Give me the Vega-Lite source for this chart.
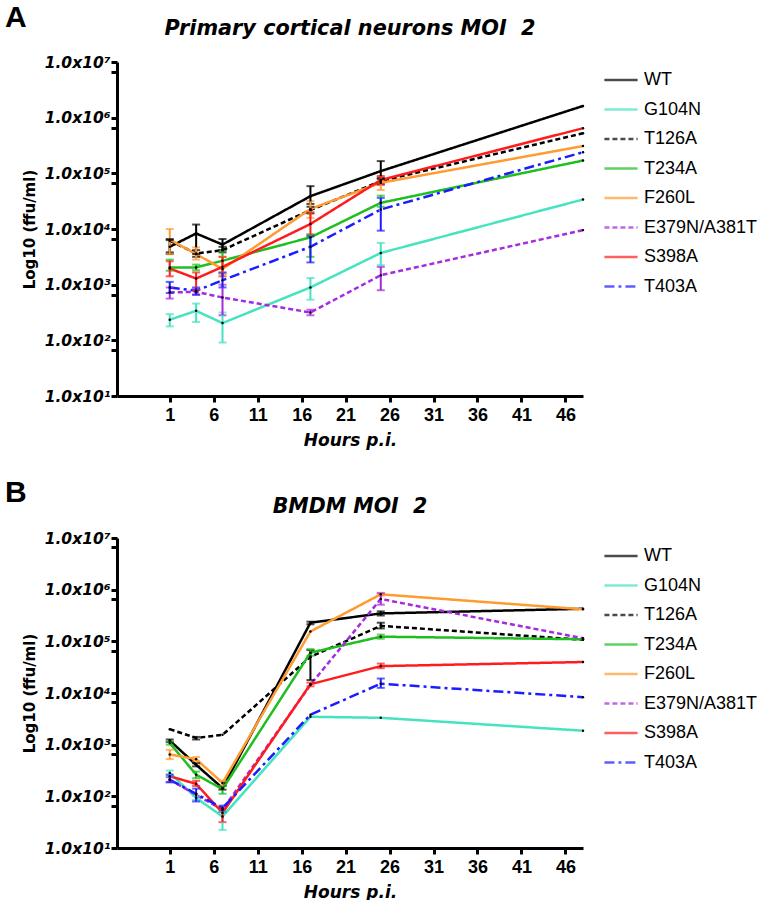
{
  "$schema": "https://vega.github.io/schema/vega-lite/v6.json",
  "background": "white",
  "padding": {"left": 5, "top": 3, "right": 0, "bottom": 0},
  "config": {
    "font": "Liberation Sans",
    "view": {"stroke": null},
    "axis": {"grid": false, "domainColor": "black", "domainWidth": 3, "tickColor": "black", "tickWidth": 3, "tickSize": 6, "labelColor": "black", "titleColor": "black", "labelOverlap": false},
    "legend": {"orient": "right", "offset": 15, "padding": 0, "symbolType": "stroke", "symbolSize": 1100, "symbolStrokeWidth": 2.5, "labelFontSize": 18, "labelColor": "black", "rowPadding": 2.5, "labelOffset": 5, "title": null}
  },
  "datasets": {
    "pts": [
      {"panel": "A", "strain": "WT", "h": 1, "v": 3.68, "lo": 3.58, "hi": 3.8},
      {"panel": "A", "strain": "WT", "h": 4, "v": 3.92, "lo": 3.55, "hi": 4.08},
      {"panel": "A", "strain": "WT", "h": 7, "v": 3.72, "lo": 3.62, "hi": 3.82},
      {"panel": "A", "strain": "WT", "h": 17, "v": 4.59, "lo": 4.45, "hi": 4.77},
      {"panel": "A", "strain": "WT", "h": 25, "v": 5.04, "lo": 4.9, "hi": 5.22},
      {"panel": "A", "strain": "WT", "h": 48, "v": 6.21},
      {"panel": "A", "strain": "G104N", "h": 1, "v": 2.37, "lo": 2.25, "hi": 2.47},
      {"panel": "A", "strain": "G104N", "h": 4, "v": 2.53, "lo": 2.33, "hi": 2.66},
      {"panel": "A", "strain": "G104N", "h": 7, "v": 2.31, "lo": 1.96, "hi": 2.5},
      {"panel": "A", "strain": "G104N", "h": 17, "v": 2.95, "lo": 2.73, "hi": 3.12},
      {"panel": "A", "strain": "G104N", "h": 25, "v": 3.57, "lo": 3.35, "hi": 3.75},
      {"panel": "A", "strain": "G104N", "h": 48, "v": 4.53},
      {"panel": "A", "strain": "T126A", "h": 1, "v": 3.79, "lo": 3.55, "hi": 3.82},
      {"panel": "A", "strain": "T126A", "h": 4, "v": 3.56, "lo": 3.5, "hi": 3.62},
      {"panel": "A", "strain": "T126A", "h": 7, "v": 3.62, "lo": 3.58, "hi": 3.68},
      {"panel": "A", "strain": "T126A", "h": 17, "v": 4.34, "lo": 4.28, "hi": 4.4},
      {"panel": "A", "strain": "T126A", "h": 25, "v": 4.86, "lo": 4.8, "hi": 4.92},
      {"panel": "A", "strain": "T126A", "h": 48, "v": 5.72},
      {"panel": "A", "strain": "T234A", "h": 1, "v": 3.31, "lo": 3.25, "hi": 3.45},
      {"panel": "A", "strain": "T234A", "h": 4, "v": 3.31, "lo": 3.26, "hi": 3.36},
      {"panel": "A", "strain": "T234A", "h": 7, "v": 3.43, "lo": 3.2, "hi": 3.6},
      {"panel": "A", "strain": "T234A", "h": 17, "v": 3.85, "lo": 3.5, "hi": 3.9},
      {"panel": "A", "strain": "T234A", "h": 25, "v": 4.47, "lo": 4.4, "hi": 4.6},
      {"panel": "A", "strain": "T234A", "h": 48, "v": 5.23},
      {"panel": "A", "strain": "F260L", "h": 1, "v": 3.81, "lo": 3.55, "hi": 4.0},
      {"panel": "A", "strain": "F260L", "h": 4, "v": 3.55, "lo": 3.45, "hi": 3.67},
      {"panel": "A", "strain": "F260L", "h": 7, "v": 3.28, "lo": 3.2, "hi": 3.5},
      {"panel": "A", "strain": "F260L", "h": 17, "v": 4.36, "lo": 4.2, "hi": 4.5},
      {"panel": "A", "strain": "F260L", "h": 25, "v": 4.83, "lo": 4.7, "hi": 4.95},
      {"panel": "A", "strain": "F260L", "h": 48, "v": 5.49},
      {"panel": "A", "strain": "E379N/A381T", "h": 1, "v": 2.86, "lo": 2.75, "hi": 2.95},
      {"panel": "A", "strain": "E379N/A381T", "h": 4, "v": 2.87, "lo": 2.82, "hi": 2.92},
      {"panel": "A", "strain": "E379N/A381T", "h": 7, "v": 2.77, "lo": 2.45, "hi": 3.0},
      {"panel": "A", "strain": "E379N/A381T", "h": 17, "v": 2.5, "lo": 2.45, "hi": 2.55},
      {"panel": "A", "strain": "E379N/A381T", "h": 25, "v": 3.17, "lo": 2.9, "hi": 3.32},
      {"panel": "A", "strain": "E379N/A381T", "h": 48, "v": 3.98},
      {"panel": "A", "strain": "S398A", "h": 1, "v": 3.29, "lo": 3.15, "hi": 3.42},
      {"panel": "A", "strain": "S398A", "h": 4, "v": 3.11, "lo": 2.9, "hi": 3.22},
      {"panel": "A", "strain": "S398A", "h": 7, "v": 3.32, "lo": 3.15, "hi": 3.5},
      {"panel": "A", "strain": "S398A", "h": 17, "v": 4.09, "lo": 3.9, "hi": 4.3},
      {"panel": "A", "strain": "S398A", "h": 25, "v": 4.88, "lo": 4.8, "hi": 4.95},
      {"panel": "A", "strain": "S398A", "h": 48, "v": 5.81},
      {"panel": "A", "strain": "T403A", "h": 1, "v": 2.95, "lo": 2.85, "hi": 3.05},
      {"panel": "A", "strain": "T403A", "h": 4, "v": 2.89, "lo": 2.82, "hi": 2.95},
      {"panel": "A", "strain": "T403A", "h": 7, "v": 3.08, "lo": 2.95, "hi": 3.22},
      {"panel": "A", "strain": "T403A", "h": 17, "v": 3.68, "lo": 3.4, "hi": 3.87},
      {"panel": "A", "strain": "T403A", "h": 25, "v": 4.35, "lo": 3.97, "hi": 4.56},
      {"panel": "A", "strain": "T403A", "h": 48, "v": 5.38},
      {"panel": "B", "strain": "WT", "h": 1, "v": 3.08, "lo": 3.05, "hi": 3.1},
      {"panel": "B", "strain": "WT", "h": 4, "v": 2.61, "lo": 2.58, "hi": 2.64},
      {"panel": "B", "strain": "WT", "h": 7, "v": 2.16, "lo": 2.13, "hi": 2.2},
      {"panel": "B", "strain": "WT", "h": 17, "v": 5.36, "lo": 5.33, "hi": 5.38},
      {"panel": "B", "strain": "WT", "h": 25, "v": 5.54, "lo": 5.5, "hi": 5.58},
      {"panel": "B", "strain": "WT", "h": 48, "v": 5.63},
      {"panel": "B", "strain": "G104N", "h": 1, "v": 2.45, "lo": 2.4, "hi": 2.5},
      {"panel": "B", "strain": "G104N", "h": 4, "v": 1.97, "lo": 1.93, "hi": 2.01},
      {"panel": "B", "strain": "G104N", "h": 7, "v": 1.61, "lo": 1.35, "hi": 1.7},
      {"panel": "B", "strain": "G104N", "h": 17, "v": 3.54},
      {"panel": "B", "strain": "G104N", "h": 25, "v": 3.52},
      {"panel": "B", "strain": "G104N", "h": 48, "v": 3.27},
      {"panel": "B", "strain": "T126A", "h": 1, "v": 3.3},
      {"panel": "B", "strain": "T126A", "h": 4, "v": 3.13, "lo": 3.1, "hi": 3.15},
      {"panel": "B", "strain": "T126A", "h": 7, "v": 3.19},
      {"panel": "B", "strain": "T126A", "h": 17, "v": 4.7, "lo": 4.25, "hi": 4.83},
      {"panel": "B", "strain": "T126A", "h": 25, "v": 5.3, "lo": 5.25, "hi": 5.36},
      {"panel": "B", "strain": "T126A", "h": 48, "v": 5.03},
      {"panel": "B", "strain": "T234A", "h": 1, "v": 3.03, "lo": 3.0, "hi": 3.06},
      {"panel": "B", "strain": "T234A", "h": 4, "v": 2.42, "lo": 2.35, "hi": 2.48},
      {"panel": "B", "strain": "T234A", "h": 7, "v": 2.14, "lo": 2.05, "hi": 2.2},
      {"panel": "B", "strain": "T234A", "h": 17, "v": 4.78, "lo": 4.72, "hi": 4.85},
      {"panel": "B", "strain": "T234A", "h": 25, "v": 5.09, "lo": 5.05, "hi": 5.13},
      {"panel": "B", "strain": "T234A", "h": 48, "v": 5.04},
      {"panel": "B", "strain": "F260L", "h": 1, "v": 2.81, "lo": 2.72, "hi": 2.9},
      {"panel": "B", "strain": "F260L", "h": 4, "v": 2.72, "lo": 2.68, "hi": 2.76},
      {"panel": "B", "strain": "F260L", "h": 7, "v": 2.26, "lo": 2.2, "hi": 2.3},
      {"panel": "B", "strain": "F260L", "h": 17, "v": 5.19},
      {"panel": "B", "strain": "F260L", "h": 25, "v": 5.91, "lo": 5.88, "hi": 5.94},
      {"panel": "B", "strain": "F260L", "h": 48, "v": 5.62},
      {"panel": "B", "strain": "E379N/A381T", "h": 1, "v": 2.32, "lo": 2.28, "hi": 2.37},
      {"panel": "B", "strain": "E379N/A381T", "h": 4, "v": 2.03},
      {"panel": "B", "strain": "E379N/A381T", "h": 7, "v": 1.74},
      {"panel": "B", "strain": "E379N/A381T", "h": 17, "v": 4.16},
      {"panel": "B", "strain": "E379N/A381T", "h": 25, "v": 5.82, "lo": 5.71, "hi": 5.93},
      {"panel": "B", "strain": "E379N/A381T", "h": 48, "v": 5.06},
      {"panel": "B", "strain": "S398A", "h": 1, "v": 2.39},
      {"panel": "B", "strain": "S398A", "h": 4, "v": 2.24, "lo": 2.2, "hi": 2.3},
      {"panel": "B", "strain": "S398A", "h": 7, "v": 1.68, "lo": 1.5, "hi": 1.78},
      {"panel": "B", "strain": "S398A", "h": 17, "v": 4.17, "lo": 4.13, "hi": 4.2},
      {"panel": "B", "strain": "S398A", "h": 25, "v": 4.52, "lo": 4.48, "hi": 4.57},
      {"panel": "B", "strain": "S398A", "h": 48, "v": 4.6},
      {"panel": "B", "strain": "T403A", "h": 1, "v": 2.32, "lo": 2.27, "hi": 2.42},
      {"panel": "B", "strain": "T403A", "h": 4, "v": 2.05, "lo": 1.9, "hi": 2.15},
      {"panel": "B", "strain": "T403A", "h": 7, "v": 1.77, "lo": 1.7, "hi": 1.82},
      {"panel": "B", "strain": "T403A", "h": 17, "v": 3.58},
      {"panel": "B", "strain": "T403A", "h": 25, "v": 4.18, "lo": 4.1, "hi": 4.28},
      {"panel": "B", "strain": "T403A", "h": 48, "v": 3.92}
    ]
  },
  "vconcat": [
    {
      "title": {"text": "A", "anchor": "start", "frame": "group", "font": "Liberation Sans", "fontSize": 30, "fontWeight": "bold", "color": "black", "offset": -15, "dx": -112},
      "vconcat": [
        {
          "width": 466,
          "height": 334,
          "title": {"text": "Primary cortical neurons MOI\u00a0 2", "font": "DejaVu Sans", "fontSize": 20.8, "fontStyle": "italic", "fontWeight": "bold", "color": "black", "offset": 15},
          "data": {"name": "pts"},
          "transform": [{"filter": "datum.panel == 'A'"}],
          "encoding": {
            "x": {"field": "h", "type": "quantitative", "scale": {"domain": [-5, 48], "nice": false, "zero": false},
              "axis": {"values": [1, 6, 11, 16, 21, 26, 31, 36, 41, 46], "title": "Hours p.i.", "titleFont": "DejaVu Sans", "titleFontSize": 17, "titleFontStyle": "italic", "titleFontWeight": "bold", "labelFontSize": 18, "labelFontWeight": "bold", "labelPadding": 4, "titlePadding": 8}},
            "y": {"field": "v", "type": "quantitative", "scale": {"domain": [1, 7], "nice": false, "zero": false},
              "axis": {"values": [1, 1.82, 2, 2.82, 3, 3.82, 4, 4.82, 5, 5.82, 6, 6.82, 7], "labelExpr": "datum.value == round(datum.value) ? '1.0x10' + ['⁰','¹','²','³','⁴','⁵','⁶','⁷'][datum.value] : ''", "title": "Log10 (ffu/ml)", "titleFont": "DejaVu Sans", "titleFontSize": 15, "titleFontWeight": "bold", "labelFont": "DejaVu Sans", "labelFontSize": 15.5, "labelFontStyle": "italic", "labelFontWeight": "bold", "labelPadding": 1, "titlePadding": 7}},
            "color": {"field": "strain", "type": "nominal", "scale": {"domain": ["WT", "G104N", "T126A", "T234A", "F260L", "E379N/A381T", "S398A", "T403A"], "range": ["#000000", "#45e3c0", "#000000", "#1fbf1f", "#ff9b30", "#a52ae0", "#ff1c1c", "#1c1cff"]}},
            "strokeDash": {"field": "strain", "type": "nominal", "scale": {"domain": ["WT", "G104N", "T126A", "T234A", "F260L", "E379N/A381T", "S398A", "T403A"], "range": [[1, 0], [1, 0], [5, 3], [1, 0], [1, 0], [5, 3], [1, 0], [10, 4, 3, 4]]}}
          },
          "layer": [
            {"mark": {"type": "line", "strokeWidth": 2.5}},
            {"transform": [{"filter": "isValid(datum.lo)"}], "mark": {"type": "errorbar", "ticks": {"size": 8, "thickness": 2}, "thickness": 2}, "encoding": {"y": {"field": "lo", "type": "quantitative"}, "y2": {"field": "hi"}, "strokeDash": {"value": [1, 0]}}},
            {"mark": {"type": "point", "filled": true, "size": 6, "opacity": 1}, "encoding": {"color": {"value": "black"}, "strokeDash": {"value": [1, 0]}}}
          ]
        }
      ]
    },
    {
      "title": {"text": "B", "anchor": "start", "frame": "group", "font": "Liberation Sans", "fontSize": 30, "fontWeight": "bold", "color": "black", "offset": -11, "dx": -112},
      "vconcat": [
        {
          "width": 466,
          "height": 310,
          "title": {"text": "BMDM MOI\u00a0 2", "font": "DejaVu Sans", "fontSize": 20.5, "fontStyle": "italic", "fontWeight": "bold", "color": "black", "offset": 14},
          "data": {"name": "pts"},
          "transform": [{"filter": "datum.panel == 'B'"}],
          "encoding": {
            "x": {"field": "h", "type": "quantitative", "scale": {"domain": [-5, 48], "nice": false, "zero": false},
              "axis": {"values": [1, 6, 11, 16, 21, 26, 31, 36, 41, 46], "title": "Hours p.i.", "titleFont": "DejaVu Sans", "titleFontSize": 17, "titleFontStyle": "italic", "titleFontWeight": "bold", "labelFontSize": 18, "labelFontWeight": "bold", "labelPadding": 4, "titlePadding": 8}},
            "y": {"field": "v", "type": "quantitative", "scale": {"domain": [1, 7], "nice": false, "zero": false},
              "axis": {"values": [1, 1.82, 2, 2.82, 3, 3.82, 4, 4.82, 5, 5.82, 6, 6.82, 7], "labelExpr": "datum.value == round(datum.value) ? '1.0x10' + ['⁰','¹','²','³','⁴','⁵','⁶','⁷'][datum.value] : ''", "title": "Log10 (ffu/ml)", "titleFont": "DejaVu Sans", "titleFontSize": 15, "titleFontWeight": "bold", "labelFont": "DejaVu Sans", "labelFontSize": 15.5, "labelFontStyle": "italic", "labelFontWeight": "bold", "labelPadding": 1, "titlePadding": 7}},
            "color": {"field": "strain", "type": "nominal", "scale": {"domain": ["WT", "G104N", "T126A", "T234A", "F260L", "E379N/A381T", "S398A", "T403A"], "range": ["#000000", "#45e3c0", "#000000", "#1fbf1f", "#ff9b30", "#a52ae0", "#ff1c1c", "#1c1cff"]}},
            "strokeDash": {"field": "strain", "type": "nominal", "scale": {"domain": ["WT", "G104N", "T126A", "T234A", "F260L", "E379N/A381T", "S398A", "T403A"], "range": [[1, 0], [1, 0], [5, 3], [1, 0], [1, 0], [5, 3], [1, 0], [10, 4, 3, 4]]}}
          },
          "layer": [
            {"mark": {"type": "line", "strokeWidth": 2.5}},
            {"transform": [{"filter": "isValid(datum.lo)"}], "mark": {"type": "errorbar", "ticks": {"size": 8, "thickness": 2}, "thickness": 2}, "encoding": {"y": {"field": "lo", "type": "quantitative"}, "y2": {"field": "hi"}, "strokeDash": {"value": [1, 0]}}},
            {"mark": {"type": "point", "filled": true, "size": 6, "opacity": 1}, "encoding": {"color": {"value": "black"}, "strokeDash": {"value": [1, 0]}}}
          ]
        }
      ]
    }
  ],
  "spacing": 29,
  "resolve": {"scale": {"color": "independent", "strokeDash": "independent"}}
}
